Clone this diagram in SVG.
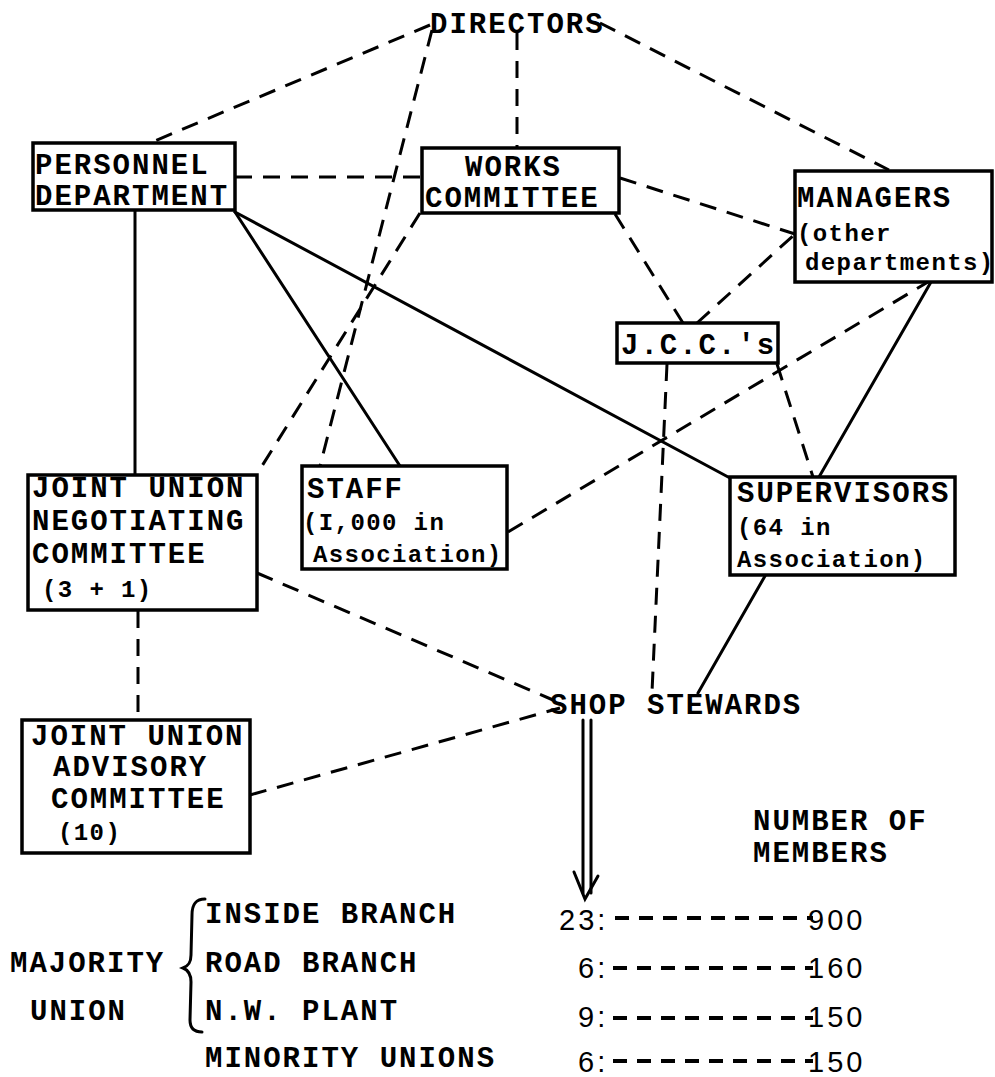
<svg xmlns="http://www.w3.org/2000/svg" width="995" height="1077" viewBox="0 0 995 1077">
<style>
.t{font-family:"Liberation Mono","DejaVu Sans Mono",monospace;font-weight:bold;font-size:29px;letter-spacing:2px;fill:#000}
.t2{font-family:"Liberation Mono","DejaVu Sans Mono",monospace;font-weight:bold;font-size:24px;letter-spacing:1.4px;fill:#000}
.n{font-family:"Liberation Sans","DejaVu Sans",sans-serif;font-size:29px;letter-spacing:3px;fill:#000}
.box{fill:#fff;stroke:#000;stroke-width:3.5}
.s{stroke:#000;stroke-width:3;fill:none;stroke-linecap:round}
.d{stroke:#000;stroke-width:3;fill:none;stroke-dasharray:17 11}
.td{stroke:#000;stroke-width:4;fill:none;stroke-dasharray:14 10}
</style>
<rect width="995" height="1077" fill="#fff"/>
<g id="connectors">
<line class="s" x1="135" y1="210" x2="135" y2="475"/>
<line class="s" x1="235" y1="212" x2="400" y2="466"/>
<line class="s" x1="235" y1="212" x2="730" y2="478"/>
<line class="s" x1="931" y1="282" x2="819" y2="477"/>
<line class="s" x1="765" y1="576" x2="698" y2="693"/>
<line class="d" x1="430" y1="25" x2="150" y2="143"/>
<line class="d" x1="432" y1="30" x2="320" y2="466"/>
<line class="d" x1="420" y1="213" x2="257" y2="474"/>
<line class="d" x1="517" y1="33" x2="517" y2="148"/>
<line class="d" x1="600" y1="23" x2="889" y2="170"/>
<line class="d" x1="235" y1="177" x2="422" y2="177"/>
<line class="d" x1="620" y1="178" x2="795" y2="234"/>
<line class="d" x1="615" y1="214" x2="683" y2="323"/>
<line class="d" x1="697" y1="323" x2="795" y2="234"/>
<line class="d" x1="777" y1="364" x2="813" y2="477"/>
<line class="d" x1="667" y1="364" x2="652" y2="692"/>
<line class="d" x1="508" y1="532" x2="928" y2="282"/>
<line class="d" x1="257" y1="573" x2="553" y2="700"/>
<line class="d" x1="250" y1="795" x2="560" y2="708"/>
<line class="d" x1="138" y1="611" x2="138" y2="720"/>
<line class="s" x1="583" y1="720" x2="583" y2="893"/>
<line class="s" x1="591" y1="720" x2="591" y2="893"/>
<polyline class="s" points="574,872 585,899 598,876"/>
<line class="td" x1="615" y1="918" x2="813" y2="918"/>
<line class="td" x1="613" y1="968" x2="813" y2="968"/>
<line class="td" x1="613" y1="1018" x2="813" y2="1018"/>
<line class="td" x1="613" y1="1061" x2="813" y2="1061"/>
<path class="s" d="M205,899 C195,899 192,905 192,915 L191,955 C191,963 188,966 183,968 C188,970 191,974 191,982 L190,1020 C190,1029 195,1032 202,1032"/>
</g>
<g id="directors"><text class="t" x="430" y="33">DIRECTORS</text></g>
<g id="personnel"><rect class="box" x="33" y="143" width="202" height="67"/><text class="t" x="35" y="174">PERSONNEL</text><text class="t" x="35" y="205">DEPARTMENT</text></g>
<g id="works"><rect class="box" x="422" y="148" width="197" height="65"/><text class="t" x="465" y="176">WORKS</text><text class="t" x="425" y="207">COMMITTEE</text></g>
<g id="managers"><rect class="box" x="795" y="171" width="197" height="111"/><text class="t" x="797" y="207">MANAGERS</text><text class="t2" x="797" y="241">(other</text><text class="t2" x="805" y="270">departments)</text></g>
<g id="jcc"><rect class="box" x="617" y="323" width="161" height="40"/><text class="t" x="621" y="354">J.C.C.'s</text></g>
<g id="junc"><rect class="box" x="28" y="475" width="229" height="135"/><text class="t" x="32" y="497">JOINT UNION</text><text class="t" x="32" y="530">NEGOTIATING</text><text class="t" x="32" y="563">COMMITTEE</text><text class="t2" x="42" y="597">(3 + 1)</text></g>
<g id="staff"><rect class="box" x="302" y="466" width="205" height="103"/><text class="t" x="307" y="498">STAFF</text><text class="t2" x="303" y="530">(I,000 in</text><text class="t2" x="313" y="562">Association)</text></g>
<g id="supervisors"><rect class="box" x="730" y="477" width="225" height="98"/><text class="t" x="737" y="502">SUPERVISORS</text><text class="t2" x="737" y="535">(64 in</text><text class="t2" x="737" y="567">Association)</text></g>
<g id="juac"><rect class="box" x="22" y="720" width="228" height="133"/><text class="t" x="31" y="745">JOINT UNION</text><text class="t" x="53" y="776">ADVISORY</text><text class="t" x="51" y="808">COMMITTEE</text><text class="t2" x="58" y="840">(10)</text></g>
<g id="shopstewards"><text class="t" x="550" y="714">SHOP STEWARDS</text></g>
<g id="legend">
<text class="t" x="753" y="830">NUMBER OF</text>
<text class="t" x="753" y="862">MEMBERS</text>
<text class="t" x="205" y="923">INSIDE BRANCH</text>
<text class="t" x="205" y="972">ROAD BRANCH</text>
<text class="t" x="205" y="1020">N.W. PLANT</text>
<text class="t" x="205" y="1067">MINORITY UNIONS</text>
<text class="t" x="10" y="972">MAJORITY</text>
<text class="t" x="30" y="1020">UNION</text>
<text class="n" x="559" y="930">23:</text>
<text class="n" x="578" y="978">6:</text>
<text class="n" x="578" y="1027">9:</text>
<text class="n" x="578" y="1072">6:</text>
<text class="n" x="808" y="930">900</text>
<text class="n" x="808" y="978">160</text>
<text class="n" x="808" y="1027">150</text>
<text class="n" x="808" y="1072">150</text>
</g>
</svg>
